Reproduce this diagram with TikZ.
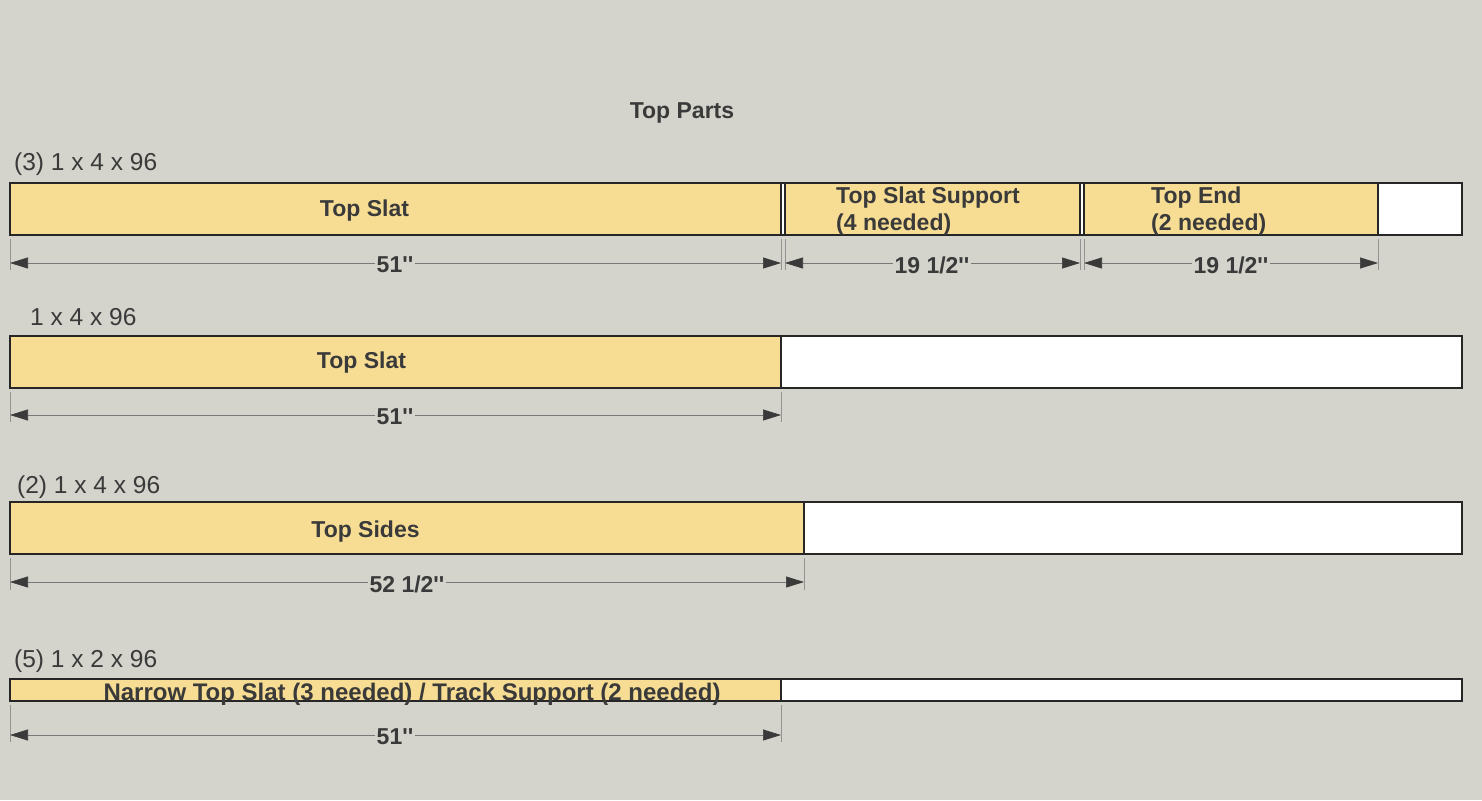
\documentclass[tikz,border=0pt]{standalone}
\usepackage{fontspec}
\setmainfont{Liberation Sans}
\usetikzlibrary{arrows.meta}
\definecolor{bg}{RGB}{212,212,204}
\definecolor{wood}{RGB}{247,221,148}
\definecolor{ink}{RGB}{58,58,58}
\definecolor{dimgray}{RGB}{120,120,120}
\tikzset{
 board/.style={draw=black!85, line width=1.1pt, fill=white, inner sep=0pt, outer sep=0pt, anchor=north west},
 part/.style={draw=black!85, line width=1.1pt, fill=wood, inner sep=0pt, outer sep=0pt, anchor=north west},
 dimline/.style={draw=dimgray, line width=0.7pt, {Triangle[length=18pt,width=11pt,color=ink]}-{Triangle[length=18pt,width=11pt,color=ink]}},
 ext/.style={draw=dimgray!80, line width=0.7pt},
 lbl/.style={font=\fontsize{23}{27}\selectfont\bfseries, text=ink, inner sep=0pt},
 stock/.style={font=\fontsize{24.5}{27}\selectfont, text=ink, anchor=west, inner sep=0pt},
 dimtxt/.style={lbl, fill=bg, inner xsep=2pt, inner ysep=1pt},
}
\newcommand{\inch}{\textquotesingle\textquotesingle}
\begin{document}
\begin{tikzpicture}[x=1pt,y=-1pt]
\fill[bg] (0,0) rectangle (1482,800);
\useasboundingbox (0,0) rectangle (1482,800);

\node[lbl] (title) at (682,113) {Top Parts};

% ---------- Row 1
\node[stock] (s1) at (14,164) {(3) 1 x 4 x 96};
\node[board, minimum width=1452pt, minimum height=52pt] (b1) at (10,183) {};
\node[part, minimum width=771pt, minimum height=52pt] (p1a) at (10,183) {};
\node[part, minimum width=295pt, minimum height=52pt] (p1b) at (785,183) {};
\node[part, minimum width=294pt, minimum height=52pt] (p1c) at (1084,183) {};
\node[lbl] (t1a) at (364.5,211) {Top Slat};
\node[lbl, align=left, anchor=west] (t1b) at (836,211) {Top Slat Support\\(4 needed)};
\node[lbl, align=left, anchor=west] (t1c) at (1151,211) {Top End\\(2 needed)};
\foreach \n/\x in {e1a/10,e1b/781,e1c/785,e1d/1080,e1e/1084,e1f/1378}{
  \coordinate (\n t) at (\x,239);
  \coordinate (\n b) at (\x,270);
  \draw[ext] (\n t) -- (\n b);
  \coordinate (\n) at (\x,263);
}
\draw[dimline] (e1a) -- (e1b);
\draw[dimline] (e1c) -- (e1d);
\draw[dimline] (e1e) -- (e1f);
\node[dimtxt] (d1a) at (395,265) {51\inch};
\node[dimtxt] (d1b) at (932,265) {19 1/2\inch};
\node[dimtxt] (d1c) at (1231,265) {19 1/2\inch};

% ---------- Row 2
\node[stock] (s2) at (30,317) {1 x 4 x 96};
\node[board, minimum width=1452pt, minimum height=52pt] (b2) at (10,336) {};
\node[part, minimum width=771pt, minimum height=52pt] (p2) at (10,336) {};
\node[lbl] (t2) at (361.5,363) {Top Slat};
\foreach \n/\x in {e2a/10,e2b/781}{
  \coordinate (\n t) at (\x,392);
  \coordinate (\n b) at (\x,422);
  \draw[ext] (\n t) -- (\n b);
  \coordinate (\n) at (\x,415);
}
\draw[dimline] (e2a) -- (e2b);
\node[dimtxt] (d2) at (395,417) {51\inch};

% ---------- Row 3
\node[stock] (s3) at (17,487) {(2) 1 x 4 x 96};
\node[board, minimum width=1452pt, minimum height=52pt] (b3) at (10,502) {};
\node[part, minimum width=794pt, minimum height=52pt] (p3) at (10,502) {};
\node[lbl] (t3) at (365.5,532) {Top Sides};
\foreach \n/\x in {e3a/10,e3b/804}{
  \coordinate (\n t) at (\x,558);
  \coordinate (\n b) at (\x,590);
  \draw[ext] (\n t) -- (\n b);
  \coordinate (\n) at (\x,582);
}
\draw[dimline] (e3a) -- (e3b);
\node[dimtxt] (d3) at (407,584) {52 1/2\inch};

% ---------- Row 4
\node[stock] (s4) at (14,661) {(5) 1 x 2 x 96};
\node[board, minimum width=1452pt, minimum height=22pt] (b4) at (10,679) {};
\node[part, minimum width=771pt, minimum height=22pt] (p4) at (10,679) {};
\node[lbl, font=\fontsize{24}{27}\selectfont\bfseries] (t4) at (412,694) {Narrow Top Slat (3 needed) / Track Support (2 needed)};
\foreach \n/\x in {e4a/10,e4b/781}{
  \coordinate (\n t) at (\x,705);
  \coordinate (\n b) at (\x,742);
  \draw[ext] (\n t) -- (\n b);
  \coordinate (\n) at (\x,735);
}
\draw[dimline] (e4a) -- (e4b);
\node[dimtxt] (d4) at (395,737) {51\inch};
\end{tikzpicture}
\end{document}
